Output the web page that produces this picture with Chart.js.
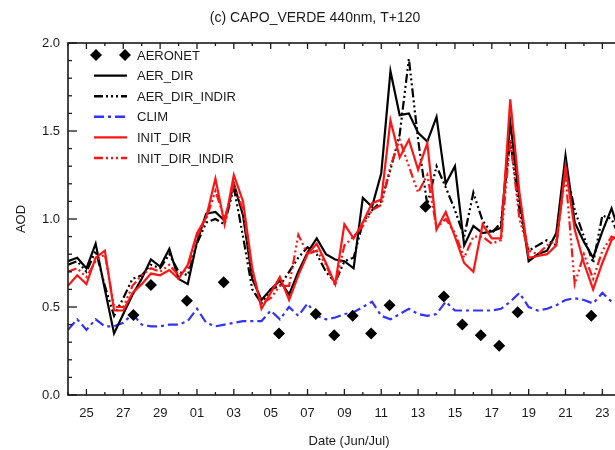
<!DOCTYPE html>
<html>
<head>
<meta charset="utf-8">
<script src="https://cdn.jsdelivr.net/npm/chart.js@4.4.0/dist/chart.umd.min.js"></script>
<style>
  html, body { margin: 0; padding: 0; overflow: hidden; background: #fff; }
  canvas { display: block; }
</style>
</head>
<body>
<canvas id="aod" width="636" height="450" style="width:636px;height:450px"></canvas>
<script>
// Day-of-month labels for days since 24 June (index 0 = 24 Jun, 7 = 1 Jul)
const dayLabels = ['24','25','26','27','28','29','30','01','02','03','04','05','06','07','08',
  '09','10','11','12','13','14','15','16','17','18','19','20','21','22','23','24'];

const chartTitle = '(c) CAPO_VERDE 440nm, T+120';
const xTitle = 'Date (Jun/Jul)';
const yTitle = 'AOD';

// Model forecasts every 12 h, from 24 Jun 00 UTC (days since 24 Jun)
const modelDays = Array.from({ length: 62 }, (_, i) => i / 2);

const aerDir = [
  0.76, 0.78, 0.72, 0.86, 0.60, 0.35, 0.46, 0.57, 0.66, 0.77,
  0.73, 0.83, 0.66, 0.63, 0.87, 1.03, 1.04, 0.99, 1.20, 1.02,
  0.66, 0.54, 0.60, 0.65, 0.57, 0.70, 0.81, 0.89, 0.80, 0.77,
  0.76, 0.72, 1.12, 1.07, 1.26, 1.84, 1.59, 1.60, 1.49, 1.44,
  1.58, 1.20, 1.30, 0.85, 0.96, 0.92, 0.93, 0.95, 1.55, 1.12,
  0.76, 0.80, 0.82, 0.92, 1.36, 0.98, 0.87, 0.78, 0.93, 1.06,
  0.90, 0.97
];
const aerDirIndir = [
  0.74, 0.76, 0.70, 0.82, 0.62, 0.45, 0.55, 0.66, 0.68, 0.74,
  0.72, 0.80, 0.70, 0.68, 0.86, 0.98, 1.00, 0.97, 1.18, 0.90,
  0.60, 0.52, 0.60, 0.62, 0.70, 0.78, 0.84, 0.80, 0.70, 0.64,
  0.76, 0.78, 0.98, 1.05, 1.10, 1.28, 1.48, 1.91, 1.45, 1.08,
  1.30, 1.18, 1.05, 0.90, 1.15, 0.99, 0.92, 0.98, 1.45, 1.05,
  0.82, 0.85, 0.88, 0.85, 1.30, 1.05, 0.90, 0.75, 1.02, 1.00,
  0.88, 0.92
];
const clim = [
  0.37, 0.43, 0.37, 0.43, 0.39, 0.39, 0.41, 0.46, 0.40, 0.39,
  0.39, 0.40, 0.40, 0.42, 0.49, 0.41, 0.39, 0.40, 0.41, 0.42,
  0.42, 0.42, 0.48, 0.43, 0.50, 0.45, 0.52, 0.45, 0.43, 0.44,
  0.46, 0.47, 0.50, 0.53, 0.45, 0.43, 0.46, 0.49, 0.46, 0.45,
  0.46, 0.53, 0.48, 0.48, 0.48, 0.48, 0.48, 0.49, 0.53, 0.58,
  0.50, 0.48, 0.49, 0.51, 0.54, 0.55, 0.54, 0.52, 0.58, 0.53,
  0.53, 0.53
];
const initDir = [
  0.62, 0.68, 0.63, 0.78, 0.82, 0.48, 0.48, 0.58, 0.63, 0.69,
  0.68, 0.71, 0.66, 0.74, 0.92, 1.01, 1.23, 0.97, 1.25, 1.10,
  0.72, 0.49, 0.58, 0.67, 0.54, 0.68, 0.80, 0.86, 0.75, 0.63,
  0.97, 0.89, 0.98, 1.09, 1.11, 1.56, 1.35, 1.45, 1.28, 1.43,
  0.94, 1.04, 0.90, 0.75, 0.70, 0.97, 0.89, 0.89, 1.68, 1.15,
  0.78, 0.79, 0.80, 0.85, 1.30, 0.94, 0.75, 0.60, 0.75, 0.88,
  0.92, 0.95
];
const initDirIndir = [
  0.70, 0.72, 0.67, 0.76, 0.80, 0.50, 0.50, 0.62, 0.68, 0.72,
  0.70, 0.74, 0.68, 0.72, 0.90, 1.00, 1.16, 1.00, 1.20, 1.05,
  0.70, 0.52, 0.55, 0.62, 0.62, 0.91, 0.80, 0.82, 0.74, 0.62,
  0.85, 0.90, 0.96, 1.05, 1.08, 1.30, 1.45, 1.30, 1.15, 1.25,
  0.95, 1.00, 0.92, 0.78, 0.90, 0.90, 0.86, 0.88, 1.45, 1.00,
  0.82, 0.80, 0.85, 0.88, 1.25, 0.63, 0.80, 0.66, 0.82, 0.90,
  0.88, 0.92
];

// AERONET daily observations (days since 24 Jun)
const aeronetDays = [3.55, 4.5, 6.45, 8.45, 11.45, 13.45, 14.45, 15.45, 16.45, 17.45,
  19.4, 20.4, 21.4, 22.4, 23.4, 24.4, 28.4];
const aeronetAod = [0.455, 0.625, 0.535, 0.64, 0.35, 0.46, 0.34, 0.45, 0.35, 0.51,
  1.07, 0.56, 0.40, 0.34, 0.28, 0.47, 0.45];

const FONT = "'Liberation Sans', Arial, Helvetica, sans-serif";
const INK = '#1a1a1a';
const RED = 'rgb(255,20,20)';
const BLUE = 'rgb(50,50,255)';
const DASH_DOT3 = [9, 3, 2, 3, 2, 3, 2, 3];
const DASH_DOT = [10, 4, 3, 4];

const pts = (xs, ys) => xs.map((x, i) => ({ x, y: ys[i] }));

function lineSet(label, values, color, dash, order) {
  return {
    label, data: pts(modelDays, values), borderColor: color, backgroundColor: color,
    borderWidth: 2.2, borderDash: dash, pointRadius: 0, tension: 0, fill: false,
    showLine: true, order
  };
}

const datasets = [
  {
    label: 'AERONET', data: pts(aeronetDays, aeronetAod), showLine: false,
    pointStyle: 'rectRot', pointRadius: 6, backgroundColor: '#000', borderColor: '#000',
    borderWidth: 0, order: 0
  },
  lineSet('AER_DIR', aerDir, '#000', [], 4),
  lineSet('AER_DIR_INDIR', aerDirIndir, '#000', DASH_DOT3, 3),
  lineSet('CLIM', clim, BLUE, DASH_DOT, 5),
  lineSet('INIT_DIR', initDir, RED, [], 2),
  lineSet('INIT_DIR_INDIR', initDirIndir, RED, DASH_DOT3, 1)
];

// Box frame with inward tick marks on every side, plus the plot title
const frame = {
  id: 'frame',
  afterDraw(chart) {
    const { ctx, chartArea: a, scales: { x, y } } = chart;
    const seg = (x1, y1, x2, y2) => { ctx.beginPath(); ctx.moveTo(x1, y1); ctx.lineTo(x2, y2); ctx.stroke(); };
    ctx.save();
    ctx.strokeStyle = INK;
    ctx.lineWidth = 1.6;
    ctx.strokeRect(a.left, a.top, a.right - a.left, a.bottom - a.top);
    ctx.lineWidth = 1.3;
    for (let d = Math.ceil(x.min); d <= x.max; d++) {
      const px = x.getPixelForValue(d);
      const len = d % 2 === 1 ? 6 : 3;
      seg(px, a.bottom, px, a.bottom - len);
      seg(px, a.top, px, a.top + len);
    }
    for (let i = 0; i <= 20; i++) {
      const py = y.getPixelForValue(i / 10);
      const len = i % 5 === 0 ? 9 : 4;
      seg(a.left, py, a.left + len, py);
      seg(a.right, py, a.right - len, py);
    }
    ctx.fillStyle = INK;
    ctx.font = '14px ' + FONT;
    ctx.textAlign = 'center';
    ctx.textBaseline = 'middle';
    ctx.fillText(chartTitle, 315, 18);
    ctx.restore();
  }
};

// Legend in the upper-left corner of the plot
const cornerLegend = {
  id: 'cornerLegend',
  afterDraw(chart) {
    const { ctx, chartArea: a } = chart;
    ctx.save();
    ctx.font = '13px ' + FONT;
    ctx.textBaseline = 'middle';
    ctx.textAlign = 'left';
    chart.data.datasets.forEach((ds, i) => {
      const yy = a.top + 12 + i * 20.6;
      const x0 = 96, x1 = 125;
      if (ds.showLine === false) {
        ctx.fillStyle = ds.backgroundColor;
        [x0, x1].forEach(cx => {
          ctx.beginPath();
          ctx.moveTo(cx, yy - 6); ctx.lineTo(cx + 6, yy);
          ctx.lineTo(cx, yy + 6); ctx.lineTo(cx - 6, yy);
          ctx.closePath(); ctx.fill();
        });
      } else {
        ctx.strokeStyle = ds.borderColor;
        ctx.lineWidth = 2.4;
        ctx.setLineDash(ds.borderDash || []);
        ctx.beginPath(); ctx.moveTo(x0 - 2, yy); ctx.lineTo(x1 + 2, yy); ctx.stroke();
        ctx.setLineDash([]);
      }
      ctx.fillStyle = INK;
      ctx.fillText(ds.label, 137, yy + 1);
    });
    ctx.restore();
  }
};

Chart.defaults.font.family = FONT;
Chart.defaults.color = INK;

new Chart(document.getElementById('aod'), {
  type: 'scatter',
  data: { datasets },
  options: {
    responsive: false,
    animation: false,
    layout: { padding: { top: 43, right: 1, left: 0, bottom: 0 } },
    plugins: { legend: { display: false }, tooltip: { enabled: false } },
    scales: {
      x: {
        type: 'linear', min: 0, max: 30.5,
        afterFit(s) { s.height = 55; s.paddingLeft = 0; s.paddingRight = 0; },
        grid: { display: false, drawTicks: false },
        border: { display: false },
        ticks: {
          stepSize: 1, autoSkip: false, maxRotation: 0, padding: 11,
          font: { size: 13 }, color: INK,
          callback: (v) => (Number.isInteger(v) && v % 2 === 1 ? dayLabels[v] : '')
        },
        title: { display: true, text: xTitle, font: { size: 13 }, color: INK, padding: { top: 0, bottom: 1 } }
      },
      y: {
        min: 0, max: 2,
        afterFit(s) { s.width = 68; s.paddingTop = 0; s.paddingBottom = 0; },
        grid: { display: false, drawTicks: false },
        border: { display: false },
        ticks: { stepSize: 0.5, padding: 8, font: { size: 13 }, color: INK, callback: (v) => v.toFixed(1) },
        title: { display: true, text: yTitle, font: { size: 13 }, color: INK, padding: { top: 14, bottom: 0 } }
      }
    }
  },
  plugins: [frame, cornerLegend]
});
</script>
</body>
</html>
